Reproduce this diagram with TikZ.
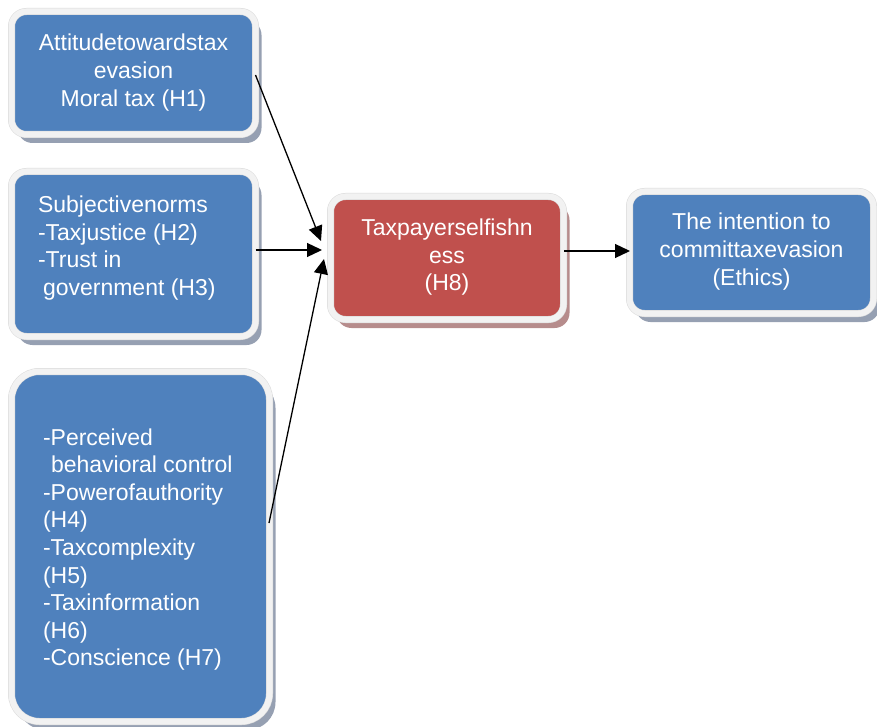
\documentclass[tikz,border=0pt]{standalone}
\usepackage{fontspec}
\setmainfont{Liberation Sans}
\usetikzlibrary{arrows.meta,calc,shadows}
\definecolor{boxblue}{RGB}{79,129,189}
\definecolor{boxred}{RGB}{192,80,77}
\definecolor{rimgray}{RGB}{242,242,242}
\definecolor{rimedge}{RGB}{218,218,218}
\definecolor{shblue}{RGB}{150,160,178}
\definecolor{shred}{RGB}{182,140,140}
\newcommand\shiftedtext[2]{\raisebox{#1}[\height][\depth]{#2}}
\begin{document}
\begin{tikzpicture}[x=1pt,y=-1pt,
  card/.style={rectangle, rounded corners=15pt, draw=rimedge, line width=0.5pt,
    double=rimgray, double distance=6pt, inner sep=0pt, outer sep=0pt,
    text=white, font=\fontsize{23}{27.6}\selectfont},
  bluecard/.style={card, fill=boxblue,
    drop shadow={shadow xshift=6pt, shadow yshift=-8.5pt, fill=shblue, opacity=1}},
  redcard/.style={card, fill=boxred,
    drop shadow={shadow xshift=6pt, shadow yshift=-8.5pt, fill=shred, opacity=1}},
  arr/.style={draw=black, line width=1.3pt, -{Triangle[length=15pt,width=14pt]}}
]
\useasboundingbox (0,0) rectangle (877,727);

\node[bluecard, minimum width=244pt, minimum height=123pt] (b1) at (133.5,73)
  {\shiftedtext{0pt}{\begin{tabular}{@{}c@{}}Attitudetowardstax\\evasion\\Moral tax (H1)\end{tabular}}};

\node[bluecard, minimum width=244pt, minimum height=165pt] (b2) at (133.5,254)
  {\shiftedtext{5.5pt}{\begin{tabular}{@{}p{191pt}@{}}Subjectivenorms\\-Taxjustice (H2)\\-Trust in\\\hspace*{5pt}government (H3)\end{tabular}}};

\node[bluecard, rounded corners=28pt, minimum width=258pt, minimum height=350pt] (b3) at (140.5,546.5)
  {\shiftedtext{-3.5pt}{\begin{tabular}{@{}p{195pt}@{}}-Perceived\\\hspace*{8pt}behavioral control\\-Powerofauthority\\(H4)\\-Taxcomplexity\\(H5)\\-Taxinformation\\(H6)\\-Conscience (H7)\end{tabular}}};

\node[redcard, minimum width=233pt, minimum height=123pt] (red) at (447,258)
  {\shiftedtext{0.5pt}{\begin{tabular}{@{}c@{}}Taxpayerselfishn\\ess\\(H8)\end{tabular}}};

\node[bluecard, minimum width=244pt, minimum height=122pt] (fin) at (751.5,252.5)
  {\shiftedtext{0.5pt}{\begin{tabular}{@{}c@{}}The intention to\\committaxevasion\\(Ethics)\end{tabular}}};

\draw[arr] ($(b1.east)+(0,2)$) -- ($(red.west)+(-9.5,-17)$);
\draw[arr] ($(b2.east)+(0,-4)$) -- ($(red.west)+(-8.5,-8)$);
\draw[arr] ($(b3.east)+(-0.5,-23.5)$) -- ($(red.west)+(-6.5,1)$);
\draw[arr] ($(red.east)+(0.5,-7)$) -- ($(fin.west)+(0.5,-1.5)$);
\end{tikzpicture}
\end{document}
